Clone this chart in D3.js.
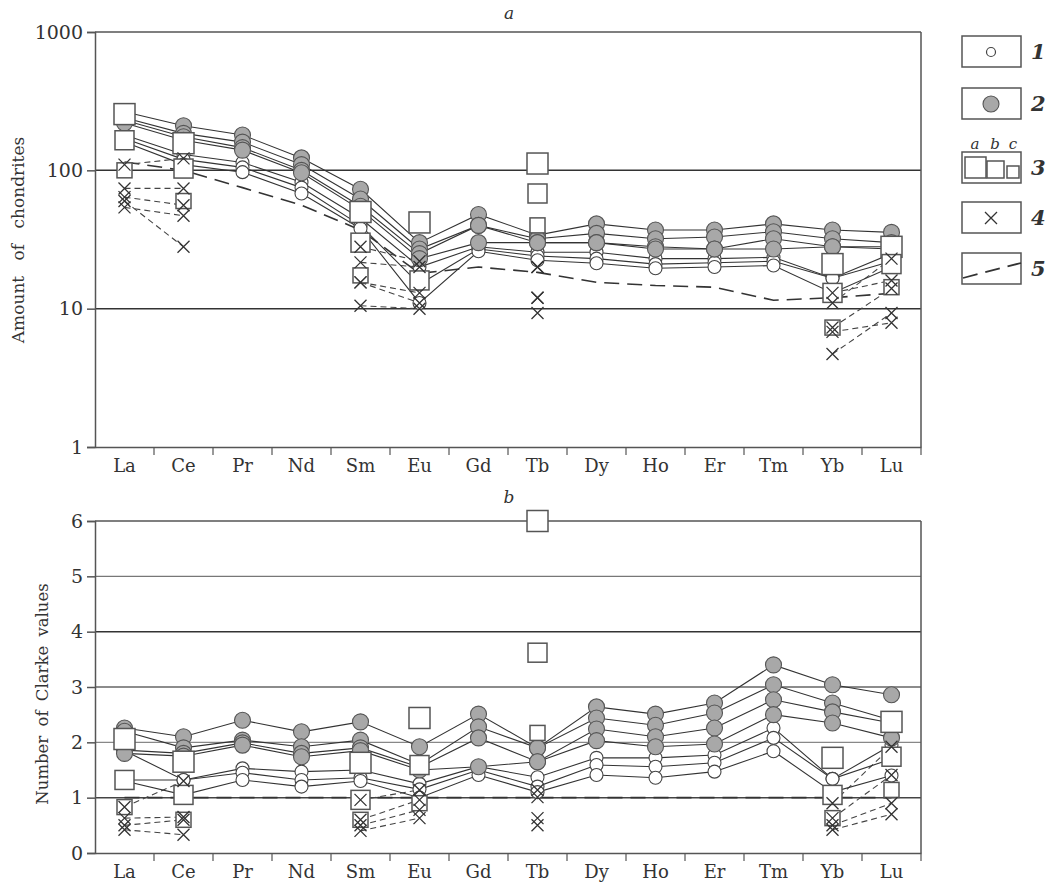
<!DOCTYPE html>
<html><head><meta charset="utf-8">
<script src="https://cdn.jsdelivr.net/npm/d3@7"></script>
<style>body{margin:0;background:#fff}svg{display:block}</style>
</head><body>
<svg id="c" width="1047" height="888"></svg>
<script>
const elements = ["La","Ce","Pr","Nd","Sm","Eu","Gd","Tb","Dy","Ho","Er","Tm","Yb","Lu"];
const ticksA = [1,10,100,1000];
const ticksB = [0,1,2,3,4,5,6];

// Panel a (chondrite-normalised)
const aWhite1 = [180,130,114,82,45,20,28,25.6,25.6,23,23,23.5,16.6,25];
const aWhite2 = [170,120,105,75,40,15,27,24,23,21,21.5,22,16.6,22];
const aWhite3 = [160,110,97,68,38,11,26,22.4,21.3,19.6,20,20.5,13,20];
const aGray1 = [265,210,180,123,73,30,48,34,41,37,37,41,37,35.6];
const aGray2 = [240,185,160,110,62,27,40,32,35,32,33,36,32,30];
const aGray3 = [230,175,146,100,55,25,40,30,30,28,27,32,28,28];
const aGray4 = [220,165,140,96,52,23,30,30,30,27,27,27,28,27];
const aSqA = [255,157,null,null,50,42,null,112,null,null,null,null,21,28];
const aSqB = [165,103,null,null,30,16,null,68,null,null,null,null,13,21];
const aSqC = [100,60,null,null,17.4,null,null,40,null,null,null,null,7.3,14.3];
const aCross1 = [110,122,null,null,28,22,null,20,null,null,null,null,11,23];
const aCross2 = [74,74,null,null,21.6,20,null,20,null,null,null,null,13,16];
const aCross3 = [64,56,null,null,15.5,13,null,12,null,null,null,null,7.3,14];
const aCross4 = [54,47,null,null,15.5,11,null,9.3,null,null,null,null,4.7,9.3];
const aCross5 = [60,28,null,null,10.5,10,null,12,null,null,null,null,6.8,7.9];
const aClarke = [115,100,75,56,37,18,20,18.3,15.5,14.7,14.3,11.5,12,12.9];

// Panel b (Clarke-normalised)
const bWhite1 = [1.85,1.32,1.53,1.47,1.5,1.25,1.56,1.37,1.72,1.72,1.77,2.26,1.34,1.95];
const bWhite2 = [1.32,1.32,1.45,1.32,1.36,1.15,1.5,1.2,1.59,1.56,1.63,2.08,1.34,1.7];
const bWhite3 = [1.3,1.05,1.32,1.2,1.3,1.0,1.41,1.1,1.41,1.36,1.47,1.84,1.1,1.4];
const bGray1 = [2.26,2.1,2.4,2.19,2.37,1.92,2.51,1.9,2.64,2.51,2.71,3.4,3.04,2.86];
const bGray2 = [2.2,1.9,2.04,1.92,2.04,1.6,2.28,1.9,2.44,2.31,2.53,3.04,2.71,2.4];
const bGray3 = [1.86,1.8,1.99,1.8,1.9,1.55,2.08,1.65,2.24,2.1,2.26,2.77,2.55,2.35];
const bGray4 = [1.8,1.75,1.95,1.74,1.85,1.5,1.56,1.65,2.03,1.92,1.97,2.5,2.35,2.08];
const bSqA = [2.06,1.65,null,null,1.63,2.44,null,6.0,null,null,null,null,1.72,2.37];
const bSqB = [1.32,1.05,null,null,0.96,1.59,null,3.62,null,null,null,null,1.05,1.74];
const bSqC = [0.83,0.6,null,null,0.6,0.9,null,2.17,null,null,null,null,0.63,1.14];
const bCross1 = [0.83,1.3,null,null,0.96,1.14,null,1.14,null,null,null,null,0.9,1.92];
const bCross2 = [0.63,0.65,null,null,0.6,0.96,null,1.01,null,null,null,null,0.63,1.41];
const bCross3 = [0.5,0.6,null,null,0.5,0.78,null,0.63,null,null,null,null,0.5,0.9];
const bCross4 = [0.42,0.33,null,null,0.4,0.63,null,0.5,null,null,null,null,0.42,0.7];
const bClarke = [1,1,1,1,1,1,1,1,1,1,1,1,1,1];

const svg = d3.select("#c");
const FONT = "'DejaVu Serif','Liberation Serif',serif";
const TXT = "#333";
const x = d3.scaleBand().domain(elements).range([95,921]).paddingInner(0).paddingOuter(0);
const cx = e => x(e) + x.bandwidth()/2;
const AX = "#555";

function panel(cfg){
  const g = svg.append("g");
  const y = cfg.y;
  const [y0,y1] = y.range();
  cfg.grid.forEach(gv=>{
    g.append("line").attr("x1",95).attr("x2",921).attr("y1",y(gv.v)).attr("y2",y(gv.v))
     .attr("stroke",gv.c).attr("stroke-width",gv.w);
  });
  g.append("line").attr("x1",921).attr("x2",921).attr("y1",y1).attr("y2",y0).attr("stroke",AX).attr("stroke-width",1.5);
  const ax = d3.axisLeft(y).tickValues(cfg.ticks).tickFormat(cfg.fmt).tickSize(8).tickPadding(4);
  const ga = g.append("g").attr("transform","translate(95,0)").call(ax);
  ga.select(".domain").attr("stroke",AX).attr("stroke-width",1.5);
  ga.selectAll(".tick line").attr("stroke",AX).attr("stroke-width",1.5);
  ga.selectAll("text").attr("font-family",FONT).attr("font-size",19).attr("fill",TXT);
  const bx = d3.axisBottom(x).tickSize(0).tickPadding(12);
  const gb = g.append("g").attr("transform",`translate(0,${y0})`).call(bx);
  gb.select(".domain").attr("stroke",AX).attr("stroke-width",1.5);
  gb.selectAll("text").attr("font-family",FONT).attr("font-size",18).attr("fill",TXT);
  elements.forEach((e,i)=>{
    if(i===0) return;
    g.append("line").attr("x1",x(e)).attr("x2",x(e)).attr("y1",y0).attr("y2",y0+8).attr("stroke",AX).attr("stroke-width",1.2);
  });
  g.append("line").attr("x1",921).attr("x2",921).attr("y1",y0).attr("y2",y0+8).attr("stroke",AX).attr("stroke-width",1.2);
  g.append("text").attr("x",509).attr("y",cfg.titleY).attr("text-anchor","middle")
   .attr("font-family",FONT).attr("font-style","italic").attr("font-size",17).attr("fill",TXT).text(cfg.title);
  g.append("text").attr("transform",`translate(${cfg.labX},${cfg.labY}) rotate(-90)`).attr("text-anchor","middle")
   .attr("font-family",FONT).attr("font-size",cfg.labSize).attr("word-spacing",cfg.ws).attr("fill",TXT).text(cfg.label);

  const all = arr => elements.map((e,i)=>({e,v:arr[i]}));
  const pts = arr => all(arr).filter(d=>d.v!=null);
  const line = d3.line().defined(d=>d.v!=null).x(d=>cx(d.e)).y(d=>y(d.v));
  const lines = g.append("g").attr("fill","none");
  lines.append("path").attr("d",line(all(cfg.clarke))).attr("stroke","#333").attr("stroke-width",1.6).attr("stroke-dasharray","15,8");
  cfg.cross.forEach(a=>lines.append("path").attr("d",line(all(a))).attr("stroke","#444").attr("stroke-width",1.1).attr("stroke-dasharray","6,4"));
  cfg.white.concat(cfg.gray).forEach(a=>lines.append("path").attr("d",line(all(a))).attr("stroke","#333").attr("stroke-width",1.1));

  const mk = g.append("g");
  cfg.white.forEach(a=>pts(a).forEach(d=>mk.append("circle").attr("cx",cx(d.e)).attr("cy",y(d.v)).attr("r",6.5)
     .attr("fill","#fff").attr("stroke","#444").attr("stroke-width",1.1)));
  cfg.gray.forEach(a=>pts(a).forEach(d=>mk.append("circle").attr("cx",cx(d.e)).attr("cy",y(d.v)).attr("r",8)
     .attr("fill","#a8a8a8").attr("stroke","#555").attr("stroke-width",1.1)));
  cfg.squares.forEach((a,k)=>{
    const s = [21,19,15][k];
    pts(a).forEach(d=>mk.append("rect").attr("x",cx(d.e)-s/2).attr("y",y(d.v)-s/2).attr("width",s).attr("height",s)
      .attr("fill","#fff").attr("stroke","#555").attr("stroke-width",1.5));
  });
  cfg.cross.forEach(a=>pts(a).forEach(d=>{
    const X=cx(d.e), Y=y(d.v), h=6;
    mk.append("path").attr("d",`M${X-h},${Y-h}L${X+h},${Y+h}M${X-h},${Y+h}L${X+h},${Y-h}`)
      .attr("stroke","#333").attr("stroke-width",1.3).attr("fill","none");
  }));
}

panel({
  y: d3.scaleLog().domain([1,1000]).range([447,32]),
  ticks: ticksA, fmt: d3.format("d"),
  grid: [{v:1000,c:AX,w:1.5},{v:100,c:"#333",w:1.5},{v:10,c:"#333",w:1.5}],
  title:"a", titleY:19, label:"Amount of chondrites", labX:24, labY:240, labSize:17, ws:10,
  white:[aWhite1,aWhite2,aWhite3], gray:[aGray1,aGray2,aGray3,aGray4],
  squares:[aSqA,aSqB,aSqC], cross:[aCross1,aCross2,aCross3,aCross4,aCross5], clarke:aClarke
});
panel({
  y: d3.scaleLinear().domain([0,6]).range([853,521]),
  ticks: ticksB, fmt: d3.format("d"),
  grid: [{v:6,c:AX,w:1.5},{v:5,c:"#777",w:1.2},{v:4,c:"#333",w:1.5},{v:3,c:"#666",w:1.3},{v:2,c:"#888",w:1.1},{v:1,c:"#444",w:1.5}],
  title:"b", titleY:503, label:"Number of Clarke values", labX:48, labY:694, labSize:16.5, ws:4,
  white:[bWhite1,bWhite2,bWhite3], gray:[bGray1,bGray2,bGray3,bGray4],
  squares:[bSqA,bSqB,bSqC], cross:[bCross1,bCross2,bCross3,bCross4], clarke:bClarke
});

// Legend
const legendLabels = ["1","2","3","4","5"];
const lg = svg.append("g");
const boxY = [36,88,152,202,253];
legendLabels.forEach((t,i)=>{
  lg.append("rect").attr("x",962).attr("y",boxY[i]).attr("width",59).attr("height",31)
    .attr("fill","#fff").attr("stroke","#555").attr("stroke-width",1.5);
  lg.append("text").attr("x",1031).attr("y",boxY[i]+23).attr("font-family",FONT).attr("font-style","italic")
    .attr("font-weight","bold").attr("font-size",21).attr("fill",TXT).text(t);
});
lg.append("circle").attr("cx",991).attr("cy",boxY[0]+16).attr("r",4.5).attr("fill","#fff").attr("stroke","#444").attr("stroke-width",1.2);
lg.append("circle").attr("cx",991).attr("cy",boxY[1]+16).attr("r",8).attr("fill","#a8a8a8").attr("stroke","#555").attr("stroke-width",1.1);
[[965,21],[987,17],[1007,12]].forEach(([sx,s])=>{
  lg.append("rect").attr("x",sx).attr("y",boxY[2]+26-s).attr("width",s).attr("height",s)
    .attr("fill","#fff").attr("stroke","#555").attr("stroke-width",1.5);
});
["a","b","c"].forEach((t,i)=>lg.append("text").attr("x",[975,995,1013][i]).attr("y",boxY[2]-3).attr("text-anchor","middle")
  .attr("font-family",FONT).attr("font-style","italic").attr("font-size",15).attr("fill",TXT).text(t));
lg.append("path").attr("d",`M985,${boxY[3]+10}L997,${boxY[3]+22}M985,${boxY[3]+22}L997,${boxY[3]+10}`).attr("stroke","#333").attr("stroke-width",1.3);
lg.append("path").attr("d",`M963,${boxY[4]+25}L1021,${boxY[4]+10}`).attr("stroke","#333").attr("stroke-width",1.8).attr("stroke-dasharray","15,8");
</script>
</body></html>
